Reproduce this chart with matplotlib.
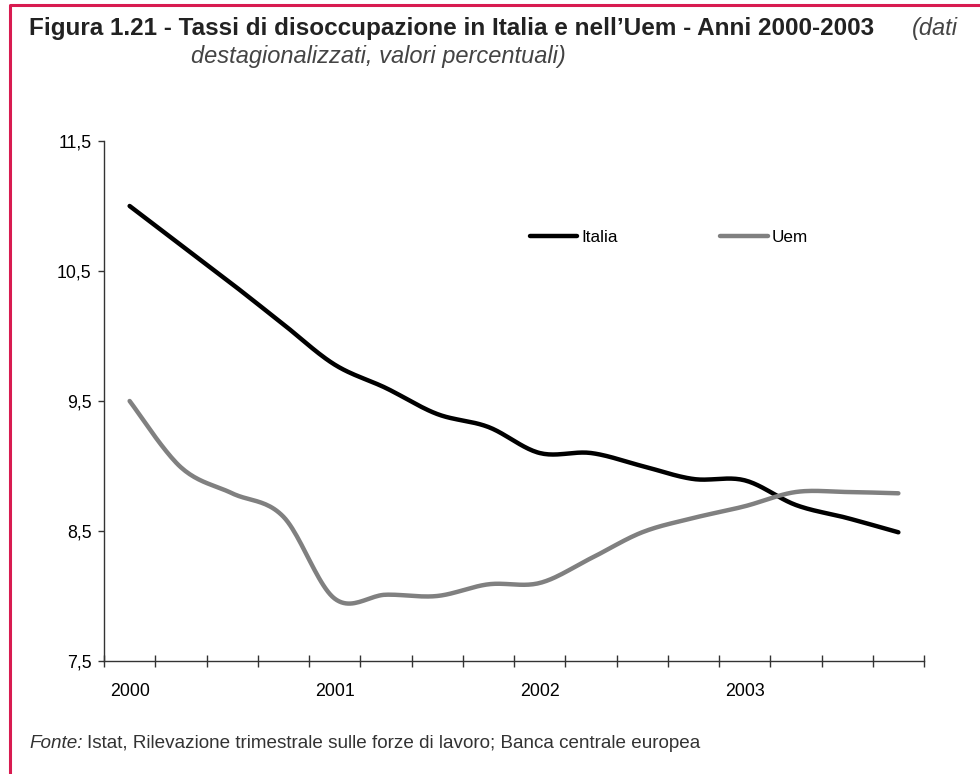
import numpy as np
import matplotlib.pyplot as plt
from matplotlib.lines import Line2D

plt.rcParams['font.family'] = ['Liberation Sans', 'DejaVu Sans']

# DATI (trimestrali, 2000 Q1 - 2003 Q4)
anni = ['2000', '2001', '2002', '2003']
italia = [11.00, 10.70, 10.40, 10.09, 9.78, 9.60, 9.40, 9.30,
          9.10, 9.10, 9.00, 8.90, 8.89, 8.70, 8.60, 8.49]
uem = [9.50, 8.99, 8.79, 8.61, 7.98, 8.01, 8.00, 8.09,
       8.10, 8.29, 8.49, 8.60, 8.69, 8.80, 8.80, 8.79]
y_ticks = [7.5, 8.5, 9.5, 10.5, 11.5]
y_labels = ['7,5', '8,5', '9,5', '10,5', '11,5']

CRIMSON = '#D81B50'


# LINEA SMUSSATA (come Excel)
def smooth(vals, n=24):
    y = np.asarray(vals, dtype=float)
    x = np.arange(len(y), dtype=float)
    p = np.column_stack([x, y])
    p = np.vstack([p[0], p, p[-1]])
    t = np.linspace(0, 1, n)[:, None]
    out = []
    for i in range(1, len(p) - 2):
        p0, p1, p2, p3 = p[i - 1], p[i], p[i + 1], p[i + 2]
        c1 = p1 + (p2 - p0) / 6
        c2 = p2 - (p3 - p1) / 6
        seg = ((1 - t) ** 3 * p1 + 3 * (1 - t) ** 2 * t * c1
               + 3 * (1 - t) * t ** 2 * c2 + t ** 3 * p2)
        out.append(seg if i == 1 else seg[1:])
    s = np.vstack(out)
    return s[:, 0], s[:, 1]


fig = plt.figure(figsize=(9.8, 7.74), dpi=100)
W, H = 980, 774

ax = fig.add_axes([104 / W, 1 - 661 / H, (924 - 104) / W, (661 - 141) / H])

xi, yi = smooth(italia)
xu, yu = smooth(uem)
ax.plot(xi, yi, color='black', lw=3.2, solid_capstyle='round', label='Italia')
ax.plot(xu, yu, color='#808080', lw=3.2, solid_capstyle='round', label='Uem')

ax.set_xlim(-0.5, len(italia) - 0.5)
ax.set_ylim(7.5, 11.5)

for s in ['top', 'right']:
    ax.spines[s].set_visible(False)
for s in ['left', 'bottom']:
    ax.spines[s].set_color('#333333')
    ax.spines[s].set_linewidth(1.0)

ax.set_yticks(y_ticks)
ax.set_yticklabels(y_labels)
ax.tick_params(axis='y', direction='out', length=4, width=1, color='#333333',
               pad=5, labelsize=12.8)

ax.set_xticks(np.arange(-0.5, len(italia), 1))
ax.set_xticklabels([])
ax.tick_params(axis='x', which='major', direction='inout', length=8, width=1,
               color='#333333')
ax.set_xticks(np.arange(0, len(italia), 4), minor=True)
ax.set_xticklabels(anni, minor=True)
ax.tick_params(axis='x', which='minor', length=0, pad=16, labelsize=12.8)

ax.legend(ncol=2, loc='center left', bbox_to_anchor=(0.519, 0.815),
          frameon=False, handlelength=2.8, handletextpad=0.22,
          columnspacing=6.0, borderpad=0, borderaxespad=0, fontsize=12.3)

# TITOLO
fig.text(29 / W, 1 - 28 / H,
         'Figura 1.21 - Tassi di disoccupazione in Italia e nell\u2019Uem - Anni 2000-2003',
         fontsize=17.5, fontweight='bold', color='#222222', va='center')
fig.text(958 / W, 1 - 28 / H, '(dati', fontsize=17, ha='right',
         style='italic', color='#444444', va='center')
fig.text(191 / W, 1 - 57 / H, 'destagionalizzati, valori percentuali)',
         fontsize=17, style='italic', color='#444444', va='center')

# FONTE
renderer = fig.canvas.get_renderer()
t2 = fig.text(29 / W, 1 - 744 / H, 'Fonte:', fontsize=13.6, style='italic',
              color='#333333', va='center')
bb2 = t2.get_window_extent(renderer)
fig.text(bb2.x1 / W + 4 / W, 1 - 744 / H,
         'Istat, Rilevazione trimestrale sulle forze di lavoro; Banca centrale europea',
         fontsize=13.6, color='#333333', va='center')

# CORNICE
fig.add_artist(Line2D([9.5 / W, 9.5 / W, 1], [0, 1 - 5 / H, 1 - 5 / H],
                      color=CRIMSON, lw=2.2, transform=fig.transFigure))

fig.savefig('out.png', dpi=100)
